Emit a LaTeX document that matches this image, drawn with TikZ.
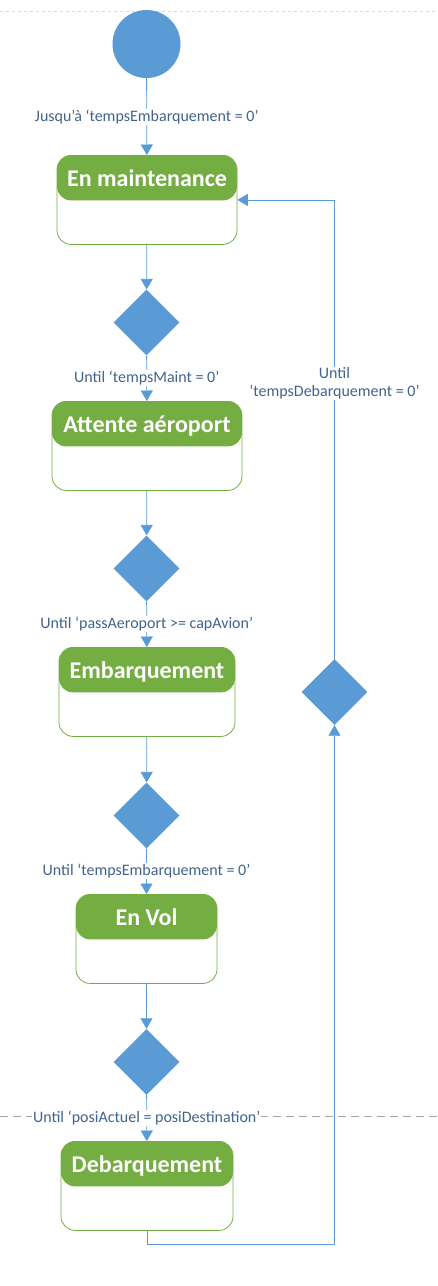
\documentclass[tikz,border=0pt]{standalone}
\usepackage{fontspec}
\setmainfont{Carlito}
\usepackage{tikz}
\usetikzlibrary{shapes.geometric}
\usetikzlibrary{arrows.meta}

\definecolor{fillblue}{HTML}{5B9BD5}
\definecolor{stgreen}{HTML}{74AE43}
\definecolor{condtxt}{HTML}{41648C}

\tikzset{
	startpt/.style={circle, fill=fillblue, minimum size=68pt, inner sep=0pt},
	choice/.style={diamond, fill=fillblue, minimum width=66pt, minimum height=66pt, inner sep=0pt},
	state/.style={draw=stgreen, line width=0.8pt, rounded corners=14pt, inner sep=0pt,
		text height=31pt, text depth=58pt, text=white, font=\bfseries\fontsize{24}{28}\selectfont,
		path picture={\fill[stgreen] (path picture bounding box.north west) rectangle ([yshift=-45pt]path picture bounding box.north east);}},
	cond/.style={fill=white, text=condtxt, inner sep=1pt, font=\fontsize{16}{18}\selectfont},
	flow/.style={color=fillblue, line width=0.8pt, -{Triangle[width=12pt,length=10.5pt]}}
}

\begin{document}
\begin{tikzpicture}[x=1pt, y=-1pt]
	\useasboundingbox (0,0) rectangle (437,1286);
	\draw[black!15, dashed] (0,11) -- (437,11);
	\draw[black!35, line width=0.8pt, dash pattern=on 8pt off 5pt] (0,1116) -- (437,1116);

	\node[startpt] (init) at (146.5,44) {};
	\node[state, minimum width=180pt, anchor=north] (maint) at (147,155) {En maintenance};
	\node[choice] (d1) at (146.5,322.5) {};
	\node[state, minimum width=190pt, anchor=north] (wait) at (147,401) {Attente aéroport};
	\node[choice] (d2) at (146.5,568.5) {};
	\node[state, minimum width=176pt, anchor=north] (board) at (147,647) {Embarquement};
	\node[choice] (d3) at (146.5,815.5) {};
	\node[state, minimum width=141pt, anchor=north] (fly) at (146.5,894) {En Vol};
	\node[choice] (d4) at (146.5,1062) {};
	\node[state, minimum width=172pt, anchor=north] (land) at (147,1141) {Debarquement};
	\node[choice] (back) at (334.5,692) {};
	\coordinate (loop) at (334.5,1244);

	\path[flow]
	(init) edge node [cond] {Jusqu’à ‘tempsEmbarquement = 0’} (maint)
	(maint) edge (d1)
	(d1) edge node [cond] {Until ‘tempsMaint = 0’} (wait)
	(wait) edge (d2)
	(d2) edge node [cond] {Until ‘passAeroport >= capAvion’} (board)
	(board) edge (d3)
	(d3) edge node [cond] {Until ‘tempsEmbarquement = 0’} (fly)
	(fly) edge (d4)
	(d4) edge node [cond] {Until ‘posiActuel = posiDestination’} (land)
	;
	\draw[flow] (land.south) |- (loop) -- (back.south);
	\draw[flow] (back.north) |- node [cond, pos=0.3, align=center] {Until\\‘tempsDebarquement = 0’} (maint.east);
\end{tikzpicture}
\end{document}
